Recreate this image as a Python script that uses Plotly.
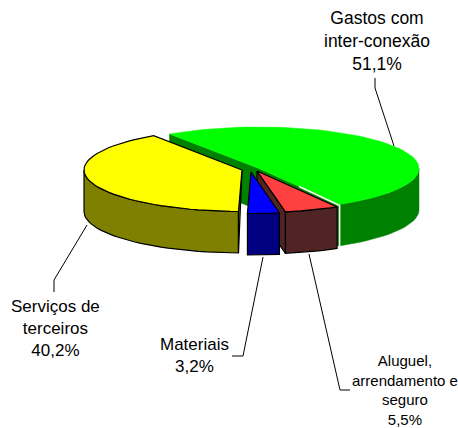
import numpy as np
import plotly.graph_objects as go

# Data
labels = ["Gastos com<br>inter-conexão", "Aluguel,<br>arrendamento e<br>seguro", "Materiais", "Serviços de<br>terceiros"]
values = [51.1, 5.5, 3.2, 40.2]
value_text = ["51,1%", "5,5%", "3,2%", "40,2%"]

# Styles and layout (pixel space of the 458x428 picture)
top_colors = ["#00FF00", "#FF4040", "#0000FF", "#FFFF00"]
side_colors = ["#008000", "#502424", "#000080", "#808000"]
outline = [False, True, True, True]
centers = [(259, 168.5), (257, 171), (251, 172), (242, 170)]
radii_x = [160, 160, 160, 158]
RY, DEPTH, START = 41.5, 41.5, 124
label_pos = [(377, 41), (405, 390), (194, 355), (55, 328)]
label_size = [17.5, 15, 17, 17]
leaders = [
    "M394,146 L375,88 L375,78",
    "M309,254 L340,390 L350,390",
    "M263,257 L243,356 L232,356",
    "M87,225 L54,280 L54,292",
]

fig = go.Figure()


def poly(xs, ys, fill, line=False):
    fig.add_trace(go.Scatter(
        x=xs, y=ys, mode="lines", fill="toself", fillcolor=fill,
        line=dict(color="black" if line else fill, width=1.2 if line else 0.5),
        hoverinfo="skip", showlegend=False))


def arc(i, a0, a1):
    t = np.radians(np.linspace(a0, a1, max(2, int(abs(a1 - a0) / 3) + 2)))
    cx, cy = centers[i]
    return cx + radii_x[i] * np.cos(t), cy - RY * np.sin(t)


edges = START - np.concatenate([[0], np.cumsum(values)]) * 3.6
wedges = [(edges[i], edges[i + 1]) for i in range(4)]


def top(i):
    a0, a1 = wedges[i]
    ax, ay = arc(i, a0, a1)
    cx, cy = centers[i]
    poly(np.r_[cx, ax, cx], np.r_[cy, ay, cy], top_colors[i], outline[i])


def side(i):
    a0, a1 = wedges[i]
    lo, hi = max(a1, -180), min(a0, 0)
    ax, ay = arc(i, hi, lo)
    poly(np.r_[ax, ax[::-1], ax[0]], np.r_[ay, ay[::-1] + DEPTH, ay[0]], side_colors[i], outline[i])


def cut_wall(i, a, triangle=False):
    ax, ay = arc(i, a, a)
    cx, cy = centers[i]
    px, py = ax[0], ay[0]
    if triangle:
        poly([cx, px, px, cx], [cy, py, py + DEPTH, cy], side_colors[i], outline[i])
    else:
        poly([cx, px, px, cx, cx], [cy, py, py + DEPTH, cy + DEPTH, cy], side_colors[i], outline[i])


# Green: back walls, side, top, white seam
cut_wall(0, wedges[0][0])
cut_wall(0, wedges[0][1])
side(0)
top(0)
ex, ey = arc(0, wedges[0][1], wedges[0][1])
mx, my = (centers[0][0] + ex[0]) / 2, (centers[0][1] + ey[0]) / 2
fig.add_trace(go.Scatter(
    x=[mx, ex[0] + 0.5, ex[0] + 0.5], y=[my, ey[0] + 1, ey[0] + DEPTH],
    mode="lines", line=dict(color="white", width=1.6), hoverinfo="skip", showlegend=False))

# Yellow
side(3)
cut_wall(3, wedges[3][0], triangle=True)
top(3)

# Red
cut_wall(1, wedges[1][1])
side(1)
top(1)

# Blue
side(2)
top(2)

shapes = [dict(type="path", path=p, xref="x", yref="y", line=dict(color="black", width=1)) for p in leaders]
annotations = [
    dict(x=label_pos[i][0], y=label_pos[i][1], xref="x", yref="y",
         text=f"{labels[i]}<br>{value_text[i]}", showarrow=False, align="center",
         font=dict(family="Liberation Sans, Arial, sans-serif", size=label_size[i], color="black"))
    for i in range(4)
]

fig.update_layout(
    width=458, height=428, margin=dict(l=0, r=0, t=0, b=0),
    paper_bgcolor="white", plot_bgcolor="white", showlegend=False,
    xaxis=dict(range=[0, 458], visible=False, fixedrange=True),
    yaxis=dict(range=[428, 0], visible=False, fixedrange=True),
    shapes=shapes, annotations=annotations,
)
fig.write_html("out.html", config={"displayModeBar": False},
               post_script="document.body.style.margin='0';")
